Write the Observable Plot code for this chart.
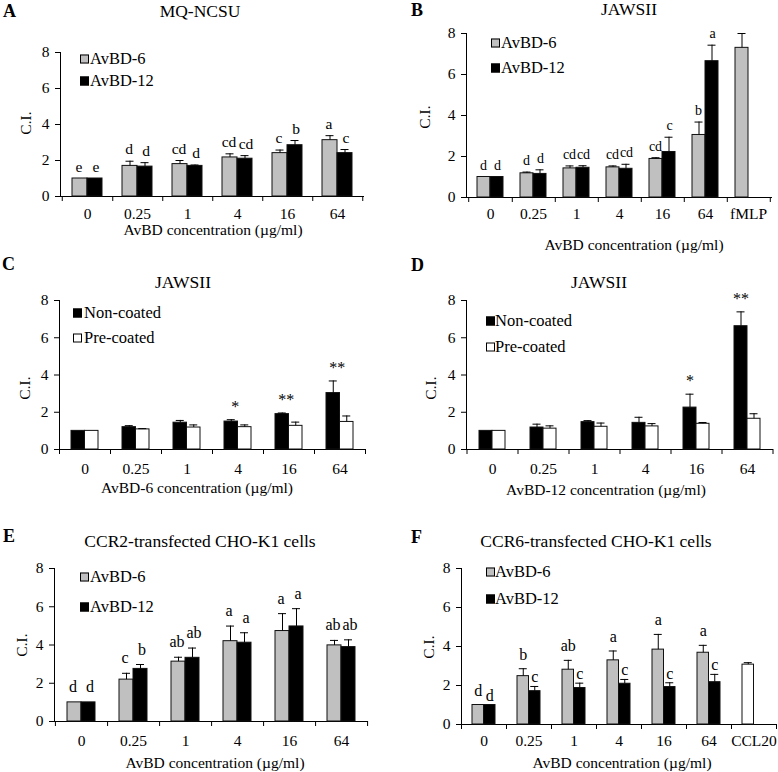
<!DOCTYPE html>
<html><head><meta charset="utf-8">
<script src="https://cdn.jsdelivr.net/npm/d3@7"></script>
<script src="https://cdn.jsdelivr.net/npm/@observablehq/plot@0.6"></script>
<style>
body{margin:0;background:#fff;}
#fig{position:relative;width:778px;height:772px;overflow:hidden;background:#fff;font-family:"Liberation Serif","Times New Roman",Times,serif;color:#000;}
.abs{position:absolute;white-space:nowrap;line-height:1;}
.c{transform:translate(-50%,-50%);}
.l{transform:translate(0,-50%);}
.sq{position:absolute;width:7px;height:7px;border:1px solid #000;transform:translate(0,-50%);}
.plot{position:absolute;}
</style></head><body><div id="fig"></div>
<script>
// ---------- data ----------
const concCats = ["0","0.25","1","4","16","64"];
const catsB = ["0","0.25","1","4","16","64","fMLP"];
const catsF = ["0","0.25","1","4","16","64","CCL20"];
const yTicks = [0,2,4,6,8];

// A: MQ-NCSU
const A_avbd6 = [1,1.7,1.8,2.17,2.41,3.13];
const A_avbd6Err = [0,0.26,0.2,0.2,0.17,0.25];
const A_avbd6Letters = ["e","d","cd","cd","c","a"];
const A_avbd12 = [1,1.66,1.7,2.1,2.85,2.41];
const A_avbd12Err = [0,0.22,0.05,0.17,0.26,0.2];
const A_avbd12Letters = ["e","d","d","cd","b","c"];

// B: JAWSII
const B_avbd6 = [1,1.18,1.42,1.47,1.88,3.05,7.3];
const B_avbd6Err = [0,0.06,0.12,0.07,0.06,0.63,0.7];
const B_avbd6Letters = ["d","d","cd","cd","cd","b",""];
const B_avbd12 = [1,1.15,1.45,1.4,2.22,6.65,null];
const B_avbd12Err = [0,0.2,0.1,0.22,0.72,0.78,0];
const B_avbd12Letters = ["d","d","cd","cd","c","a",""];

// C: JAWSII, AvBD-6
const C_non = [1,1.2,1.44,1.5,1.9,3.03];
const C_nonErr = [0,0.08,0.12,0.1,0.06,0.65];
const C_pre = [1,1.08,1.18,1.2,1.27,1.48];
const C_preErr = [0,0.04,0.14,0.12,0.2,0.32];
const C_stars = ["","","","*","**","**"];

// D: JAWSII, AvBD-12
const D_non = [1,1.18,1.47,1.43,2.25,6.62];
const D_nonErr = [0,0.18,0.08,0.3,0.72,0.77];
const D_pre = [1,1.12,1.22,1.24,1.38,1.65];
const D_preErr = [0,0.15,0.2,0.15,0.07,0.27];
const D_stars = ["","","","","*","**"];

// E: CCR2-transfected CHO-K1 cells
const E_avbd6 = [1,2.19,3.13,4.2,4.73,3.98];
const E_avbd6Err = [0,0.33,0.23,0.79,0.91,0.26];
const E_avbd6Letters = ["d","c","ab","a","a","ab"];
const E_avbd12 = [1,2.75,3.33,4.12,4.97,3.89];
const E_avbd12Err = [0,0.23,0.51,0.52,0.93,0.38];
const E_avbd12Letters = ["d","b","ab","a","a","ab"];

// F: CCR6-transfected CHO-K1 cells
const F_avbd6 = [1,2.48,2.81,3.29,3.84,3.68,null];
const F_avbd6Err = [0,0.38,0.48,0.48,0.78,0.38,0];
const F_avbd6Letters = ["d","b","ab","a","a","a",""];
const F_avbd12 = [1,1.71,1.87,2.09,1.92,2.17,null];
const F_avbd12Err = [0,0.24,0.25,0.22,0.22,0.4,0];
const F_avbd12Letters = ["d","c","c","c","c","c",""];
const F_ccl20 = [null,null,null,null,null,null,3.07];
const F_ccl20Err = [0,0,0,0,0,0,0.1];

// ---------- drawing ----------
const FONT = '"Liberation Serif","Times New Roman",Times,serif';
const GRAY = "#c0c0c0";
const fig = document.getElementById("fig");

function rowsOf(cats, vals, errs, labels) {
  return cats.map((c, i) => ({cat: c, value: vals[i], err: errs[i] || 0, label: labels ? labels[i] : ""}))
    .filter(d => d.value != null);
}

function html(str, x, y, cls, style) {
  const d = document.createElement("div");
  d.className = "abs " + cls;
  d.textContent = str;
  d.style.left = x + "px"; d.style.top = y + "px";
  Object.assign(d.style, style || {});
  fig.appendChild(d);
  return d;
}
function legendItem(label, fill, x, y, tx) {
  const s = document.createElement("div");
  s.className = "sq";
  s.style.left = x + "px"; s.style.top = y + "px"; s.style.background = fill;
  fig.appendChild(s);
  html(label, tx, y, "l", {fontSize: "16.5px"});
}

function panel(cfg) {
  const {left, top, width, height, axisX, rightX, y8, y0, cats, pairW, groups, tickOffset, labelDy, labelSize} = cfg;
  const step = (rightX - axisX) / cats.length;
  const pad = 1 - pairW / step;
  const half = pairW / 2;
  const cap = 8;
  const marks = [];
  for (const g of groups) {
    const L = g.side === "L";
    const off = L ? -half / 2 : half / 2;
    const baseL = L ? 0 : half, baseR = L ? half : 0;
    marks.push(Plot.barY(g.rows, {x: "cat", y: "value", fill: g.fill, stroke: "#111", strokeWidth: 1,
      insetLeft: baseL, insetRight: baseR}));
    const e = g.rows.filter(d => d.err > 0);
    marks.push(Plot.ruleX(e, {x: "cat", y1: "value", y2: d => d.value + d.err, dx: off, stroke: "#000", strokeWidth: 1}));
    marks.push(Plot.tickY(e, {x: "cat", y: d => d.value + d.err, insetLeft: baseL + half / 2 - cap / 2,
      insetRight: baseR + half / 2 - cap / 2, stroke: "#000", strokeWidth: 1}));
    const t = g.rows.filter(d => d.label);
    marks.push(Plot.text(t, {x: "cat", y: d => d.value + d.err, text: "label", dx: off + (g.labelDx || 0), dy: -(g.labelDy ?? labelDy),
      lineAnchor: "bottom", fontSize: labelSize || 16, fill: "#000"}));
  }
  marks.push(Plot.ruleX(cats, {x: d => d, y1: 0, y2: 0, insetBottom: -5, dx: step / 2, stroke: "#000"}));
  marks.push(Plot.ruleX(cats.slice(0, 1), {x: d => d, y1: 0, y2: 0, insetBottom: -5, dx: -step / 2, stroke: "#000"}));
  const svg = Plot.plot({
    width, height,
    marginLeft: axisX - left, marginRight: left + width - rightX,
    marginTop: y8 - top, marginBottom: top + height - y0,
    style: {fontFamily: FONT, fontSize: "15.5px", background: "transparent", color: "#000", overflow: "visible"},
    x: {domain: cats, paddingInner: pad, paddingOuter: pad / 2, tickSize: 0, tickPadding: tickOffset, line: true, label: null},
    y: {domain: [0, 8], ticks: yTicks, tickSize: 5, tickPadding: 6, line: true, label: null},
    marks
  });
  const wrap = document.createElement("div");
  wrap.className = "plot";
  wrap.style.left = left + "px"; wrap.style.top = top + "px";
  wrap.appendChild(svg);
  fig.appendChild(wrap);
}

// Panel A
panel({left: 0, top: 0, width: 389, height: 250, axisX: 60, rightX: 363, y8: 52, y0: 196, cats: concCats, pairW: 30,
  tickOffset: 11, labelDy: 7, labelSize: 15.5,
  groups: [
    {side: "L", fill: GRAY, rows: rowsOf(concCats, A_avbd6, A_avbd6Err, A_avbd6Letters), labelDx: -1},
    {side: "R", fill: "#000", rows: rowsOf(concCats, A_avbd12, A_avbd12Err, A_avbd12Letters), labelDx: 1}
  ]});
html("A", 3, 11, "l", {fontSize: "18px", fontWeight: "bold"});
html("MQ-NCSU", 200, 12, "c", {fontSize: "17.5px"});
html("C.I.", 26, 123, "c", {fontSize: "15.5px", transform: "translate(-50%,-50%) rotate(-90deg)"});
html("AvBD concentration (µg/ml)", 213, 230, "c", {fontSize: "15.5px"});
legendItem("AvBD-6", GRAY, 80, 59, 90);
legendItem("AvBD-12", "#000", 80, 81, 90);

// Panel B
panel({left: 389, top: 0, width: 389, height: 250, axisX: 466, rightX: 771, y8: 33, y0: 197, cats: catsB, pairW: 26,
  tickOffset: 10, labelDy: 7, labelSize: 14,
  groups: [
    {side: "L", fill: GRAY, rows: rowsOf(catsB, B_avbd6, B_avbd6Err, B_avbd6Letters), labelDx: -0.5},
    {side: "R", fill: "#000", rows: rowsOf(catsB, B_avbd12, B_avbd12Err, B_avbd12Letters), labelDx: 0.5}
  ]});
html("B", 411, 10, "l", {fontSize: "18px", fontWeight: "bold"});
html("JAWSII", 629, 10, "c", {fontSize: "17.5px"});
html("C.I.", 425, 117, "c", {fontSize: "15.5px", transform: "translate(-50%,-50%) rotate(-90deg)"});
html("AvBD concentration (µg/ml)", 634, 245, "c", {fontSize: "15.5px"});
legendItem("AvBD-6", GRAY, 491, 43, 501);
legendItem("AvBD-12", "#000", 491, 68, 501);

// Panel C
panel({left: 0, top: 250, width: 389, height: 250, axisX: 59, rightX: 365, y8: 300, y0: 449, cats: concCats, pairW: 27,
  tickOffset: 13, labelDy: 8,
  groups: [
    {side: "L", fill: "#000", rows: rowsOf(concCats, C_non, C_nonErr, C_stars), labelDx: 4},
    {side: "R", fill: "#fff", rows: rowsOf(concCats, C_pre, C_preErr, null)}
  ]});
html("C", 2, 264, "l", {fontSize: "18px", fontWeight: "bold"});
html("JAWSII", 183, 283, "c", {fontSize: "17.5px"});
html("C.I.", 25, 388, "c", {fontSize: "15.5px", transform: "translate(-50%,-50%) rotate(-90deg)"});
html("AvBD-6 concentration  (µg/ml)", 197, 488, "c", {fontSize: "15.5px"});
legendItem("Non-coated", "#000", 73, 313, 84);
legendItem("Pre-coated", "#fff", 73, 338, 84);

// Panel D
panel({left: 389, top: 250, width: 389, height: 250, axisX: 466, rightX: 772, y8: 300, y0: 449, cats: concCats, pairW: 26,
  tickOffset: 13, labelDy: 8,
  groups: [
    {side: "L", fill: "#000", rows: rowsOf(concCats, D_non, D_nonErr, D_stars)},
    {side: "R", fill: "#fff", rows: rowsOf(concCats, D_pre, D_preErr, null)}
  ]});
html("D", 411, 265, "l", {fontSize: "18px", fontWeight: "bold"});
html("JAWSII", 599, 283, "c", {fontSize: "17.5px"});
html("C.I.", 431, 388, "c", {fontSize: "15.5px", transform: "translate(-50%,-50%) rotate(-90deg)"});
html("AvBD-12 concentration  (µg/ml)", 606, 490, "c", {fontSize: "15.5px"});
legendItem("Non-coated", "#000", 486, 321, 495);
legendItem("Pre-coated", "#fff", 486, 347, 495);

// Panel E
panel({left: 0, top: 500, width: 389, height: 272, axisX: 54, rightX: 367, y8: 568, y0: 721, cats: concCats, pairW: 28,
  tickOffset: 13, labelDy: 10, labelSize: 16,
  groups: [
    {side: "L", fill: GRAY, rows: rowsOf(concCats, E_avbd6, E_avbd6Err, E_avbd6Letters), labelDx: -1.5},
    {side: "R", fill: "#000", rows: rowsOf(concCats, E_avbd12, E_avbd12Err, E_avbd12Letters), labelDx: 1.5}
  ]});
html("E", 3, 536, "l", {fontSize: "18px", fontWeight: "bold"});
html("CCR2-transfected CHO-K1 cells", 200, 542, "c", {fontSize: "17.5px"});
html("C.I.", 22, 645, "c", {fontSize: "15.5px", transform: "translate(-50%,-50%) rotate(-90deg)"});
html("AvBD concentration (µg/ml)", 215, 763, "c", {fontSize: "15.5px"});
legendItem("AvBD-6", GRAY, 80, 577, 90);
legendItem("AvBD-12", "#000", 80, 607, 90);

// Panel F
panel({left: 389, top: 500, width: 389, height: 272, axisX: 461, rightX: 776, y8: 568, y0: 724, cats: catsF, pairW: 23,
  tickOffset: 10, labelDy: 9,
  groups: [
    {side: "L", fill: GRAY, rows: rowsOf(catsF, F_avbd6, F_avbd6Err, F_avbd6Letters)},
    {side: "R", fill: "#000", rows: rowsOf(catsF, F_avbd12, F_avbd12Err, F_avbd12Letters), labelDy: 4},
    {side: "L", fill: "#fff", rows: rowsOf(catsF, F_ccl20, F_ccl20Err, null)}
  ]});
html("F", 411, 537, "l", {fontSize: "18px", fontWeight: "bold"});
html("CCR6-transfected CHO-K1 cells", 596, 542, "c", {fontSize: "17.5px"});
html("C.I.", 429, 647, "c", {fontSize: "15.5px", transform: "translate(-50%,-50%) rotate(-90deg)"});
html("AvBD concentration (µg/ml)", 622, 763, "c", {fontSize: "15.5px"});
legendItem("AvBD-6", GRAY, 486, 572, 495);
legendItem("AvBD-12", "#000", 486, 599, 495);
</script>
</body></html>
